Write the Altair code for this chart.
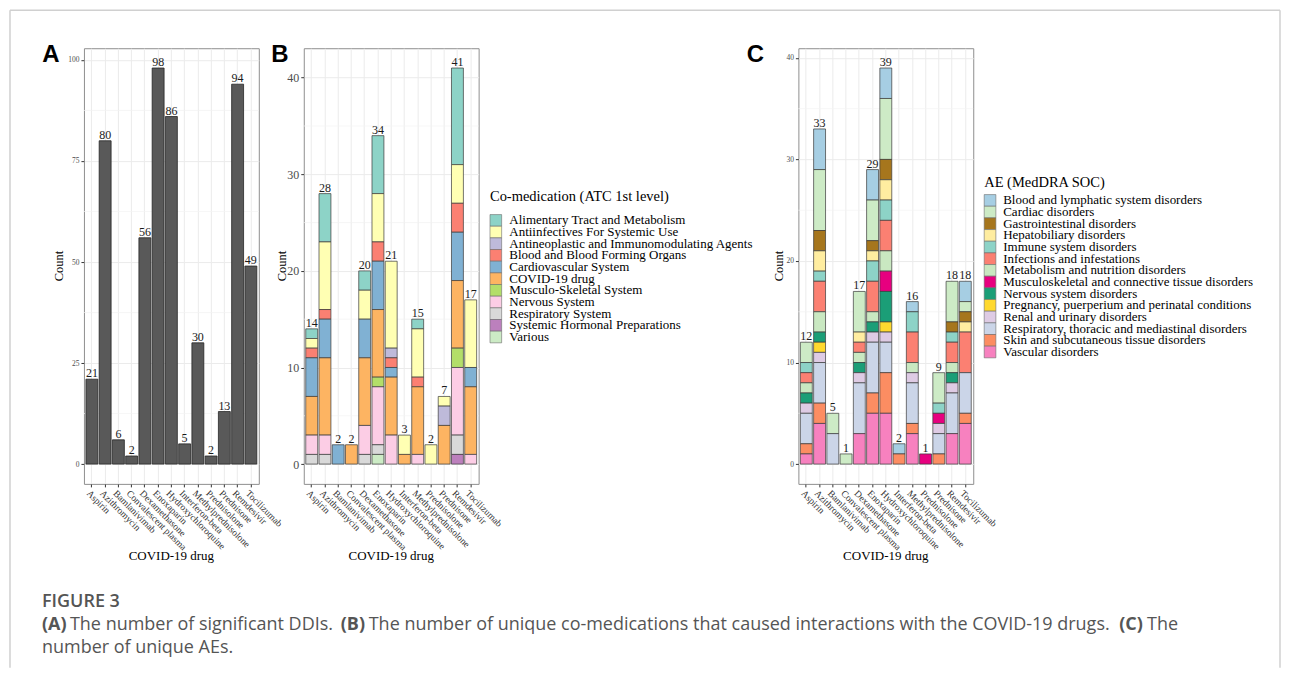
import altair as alt
import pandas as pd

# ---------------- data ----------------
drugs = ["Aspirin", "Azithromycin", "Bamlanivimab", "Convalescent plasma", "Dexamethasone",
         "Enoxaparin", "Hydroxychloroquine", "Interferon-beta", "Methylprednisolone",
         "Prednisolone", "Prednisone", "Remdesivir", "Tocilizumab"]

# Panel A: number of significant DDIs
ddi_counts = [21, 80, 6, 2, 56, 98, 86, 5, 30, 2, 13, 94, 49]

# Panel B: unique co-medications by ATC 1st level (per drug, order as `drugs`)
atc_classes = ["Alimentary Tract and Metabolism", "Antiinfectives For Systemic Use",
               "Antineoplastic and Immunomodulating Agents", "Blood and Blood Forming Organs",
               "Cardiovascular System", "COVID-19 drug", "Musculo-Skeletal System",
               "Nervous System", "Respiratory System", "Systemic Hormonal Preparations", "Various"]
atc_colors = ["#8dd3c7", "#ffffb3", "#bebada", "#fb8072", "#80b1d3", "#fdb462",
              "#b3de69", "#fccde5", "#d9d9d9", "#bc80bd", "#ccebc5"]
atc_alimentary     = [1, 5, 0, 0, 2, 6, 0, 0, 1, 0, 0, 10, 0]
atc_antiinfectives = [1, 7, 0, 0, 3, 5, 9, 2, 5, 2, 1, 4, 7]
atc_antineoplastic = [0, 0, 0, 0, 0, 0, 1, 0, 0, 0, 2, 0, 0]
atc_blood          = [1, 1, 0, 0, 0, 2, 1, 0, 1, 0, 0, 3, 0]
atc_cardiovascular = [4, 4, 2, 0, 4, 5, 1, 0, 0, 0, 0, 5, 2]
atc_covid          = [4, 8, 0, 2, 7, 7, 6, 1, 7, 0, 4, 7, 7]
atc_musculo        = [0, 0, 0, 0, 0, 1, 0, 0, 0, 0, 0, 2, 0]
atc_nervous        = [2, 2, 0, 0, 3, 6, 3, 0, 1, 0, 0, 7, 1]
atc_respiratory    = [1, 1, 0, 0, 1, 1, 0, 0, 0, 0, 0, 2, 0]
atc_hormonal       = [0, 0, 0, 0, 0, 0, 0, 0, 0, 0, 0, 1, 0]
atc_various        = [0, 0, 0, 0, 0, 1, 0, 0, 0, 0, 0, 0, 0]
atc_values = [atc_alimentary, atc_antiinfectives, atc_antineoplastic, atc_blood,
              atc_cardiovascular, atc_covid, atc_musculo, atc_nervous, atc_respiratory,
              atc_hormonal, atc_various]

# Panel C: unique AEs by MedDRA SOC
soc_classes = ["Blood and lymphatic system disorders", "Cardiac disorders",
               "Gastrointestinal disorders", "Hepatobiliary disorders", "Immune system disorders",
               "Infections and infestations", "Metabolism and nutrition disorders",
               "Musculoskeletal and connective tissue disorders", "Nervous system disorders",
               "Pregnancy, puerperium and perinatal conditions", "Renal and urinary disorders",
               "Respiratory, thoracic and mediastinal disorders",
               "Skin and subcutaneous tissue disorders", "Vascular disorders"]
soc_colors = ["#a6cee3", "#cdebc6", "#a6761d", "#ffeda0", "#8dd3c7", "#fb8072", "#c9e8c1",
              "#e7007f", "#1b9e77", "#ffd92f", "#decbe4", "#cbd5e8", "#fc8d62", "#f781bf"]
soc_blood     = [0, 4, 0, 0, 0, 3, 3, 1, 1, 0, 0, 0, 2]
soc_cardiac   = [2, 6, 2, 1, 4, 4, 6, 0, 0, 0, 3, 4, 1]
soc_gi        = [0, 2, 0, 0, 0, 1, 2, 0, 0, 0, 0, 1, 1]
soc_hepato    = [0, 2, 0, 0, 1, 1, 2, 0, 0, 0, 0, 0, 1]
soc_immune    = [1, 1, 0, 0, 0, 2, 2, 0, 2, 0, 1, 1, 0]
soc_infect    = [1, 3, 0, 0, 1, 3, 3, 0, 3, 0, 0, 2, 4]
soc_metab     = [1, 2, 0, 0, 1, 1, 2, 0, 1, 0, 0, 1, 0]
soc_musculo   = [0, 0, 0, 0, 0, 0, 2, 0, 0, 1, 1, 0, 0]
soc_nervous   = [1, 1, 0, 0, 1, 1, 3, 0, 0, 0, 0, 1, 0]
soc_pregnancy = [0, 1, 0, 0, 0, 0, 1, 0, 0, 0, 0, 0, 0]
soc_renal     = [1, 1, 0, 0, 1, 1, 1, 0, 1, 0, 1, 1, 0]
soc_resp      = [3, 4, 3, 0, 5, 5, 3, 0, 4, 0, 2, 4, 4]
soc_skin      = [1, 2, 0, 0, 0, 2, 4, 1, 1, 0, 1, 0, 1]
soc_vascular  = [1, 4, 0, 0, 3, 5, 5, 0, 3, 0, 0, 3, 4]
soc_values = [soc_blood, soc_cardiac, soc_gi, soc_hepato, soc_immune, soc_infect, soc_metab,
              soc_musculo, soc_nervous, soc_pregnancy, soc_renal, soc_resp, soc_skin,
              soc_vascular]

ticks_A = [0, 25, 50, 75, 100]
minor_A = [12.5, 37.5, 62.5, 87.5]
ticks_BC = [0, 10, 20, 30, 40]
minor_BC = [5, 15, 25, 35]

# ---------------- helpers ----------------
FONT = "Liberation Serif"
SANS = "Open Sans"
W, H = 175, 436
KEY = 11.67  # legend key height


def long_df(classes, values, key):
    rows = []
    for k, (cls, vals) in enumerate(zip(classes, values)):
        for d, v in zip(drugs, vals):
            if v > 0:
                rows.append({"drug": d, key: cls, "n": v, "k": k})
    return pd.DataFrame(rows)


def x_enc():
    return alt.X("drug:N", sort=drugs,
                 scale=alt.Scale(domain=drugs, paddingInner=0.1, paddingOuter=0.15),
                 axis=alt.Axis(title=None, labelAngle=45, labelAlign="left", labelBaseline="top",
                               labelFont=FONT, labelFontSize=9.5, labelColor="#333333",
                               labelOverlap=False, tickColor="#333333", tickSize=3,
                               labelPadding=1, domain=False, grid=True, gridColor="#ebebeb",
                               bandPosition=0.5))


def y_enc(field, domain, ticks, fs, stack=None):
    kw = {}
    if stack:
        kw["stack"] = stack
    return alt.Y(field, scale=alt.Scale(domain=domain, nice=False, zero=False),
                 axis=alt.Axis(title=None, values=ticks, labelFont=FONT, labelFontSize=fs,
                               labelColor="#4d4d4d", tickColor="#333333", tickSize=3,
                               labelPadding=2, domain=False, grid=True, gridColor="#ebebeb"),
                 **kw)


def note(txt, x, y, size, font=FONT, weight="normal", angle=0, align="center",
         baseline="alphabetic", color="black"):
    return alt.Chart(pd.DataFrame({"t": [txt]})).mark_text(
        font=font, fontSize=size, fontWeight=weight, angle=angle, align=align,
        baseline=baseline, color=color).encode(x=alt.value(x), y=alt.value(y), text="t:N")


def minor_grid(vals, domain, ticks, fs):
    return alt.Chart(pd.DataFrame({"v": vals})).mark_rule(color="#f2f2f2", strokeWidth=0.7).encode(
        y=y_enc("v:Q", domain, ticks, fs))


def panel_texts(letter, lx, count_x):
    return [note(letter, lx, 14, 24, font="Liberation Sans", weight="bold"),
            note("Count", count_x, H / 2, 12.5, angle=270, baseline="middle"),
            note("COVID-19 drug", W / 2, 512, 13)]


def key_legend(classes, colors, field, title, title_y, first_y, sw_x, lab_x):
    """Legend drawn as its own layer with a point scale for the key rows."""
    df = pd.DataFrame({field: classes})
    ysc = alt.Scale(type="point", domain=classes,
                    range=[first_y, first_y + KEY * (len(classes) - 1)], padding=0)
    yk = alt.Y(f"{field}:N", sort=classes, scale=ysc, axis=None)
    sw = alt.Chart(df).mark_square(size=KEY * KEY, opacity=1, stroke="#6b6b6b",
                                   strokeWidth=0.6).encode(
        x=alt.value(sw_x), y=yk,
        color=alt.Color(f"{field}:N", scale=alt.Scale(domain=classes, range=colors), legend=None))
    lab = alt.Chart(df).mark_text(font=FONT, fontSize=13, align="left", baseline="middle",
                                  color="black").encode(
        x=alt.value(lab_x), y=yk, text=f"{field}:N")
    ttl = note(title, sw_x - KEY / 2, title_y, 14.5, align="left")
    return alt.layer(sw, lab, ttl)


# ---------------- panel A ----------------
domA = [-4.9, 102.9]
dfA = pd.DataFrame({"drug": drugs, "count": ddi_counts})
barsA = alt.Chart(dfA).mark_bar(color="#595959", stroke="#262626", strokeWidth=0.8).encode(
    x=x_enc(), y=y_enc("count:Q", domA, ticks_A, 7.5))
textA = alt.Chart(dfA).mark_text(font=FONT, fontSize=12, baseline="alphabetic", dy=-2,
                                 color="#1a1a1a").encode(
    x=x_enc(), y=y_enc("count:Q", domA, ticks_A, 7.5), text="count:Q")

# frame + caption (positions relative to panel A plot origin)
frame_df = pd.DataFrame({"a": [0]})
frame_col = "#d0d0d0"
frame = [
    alt.Chart(frame_df).mark_rule(color=frame_col, strokeWidth=1.5).encode(
        x=alt.value(-74), y=alt.value(-38), y2=alt.value(620)),
    alt.Chart(frame_df).mark_rule(color=frame_col, strokeWidth=1.5).encode(
        x=alt.value(-74), x2=alt.value(1197), y=alt.value(-38)),
    alt.Chart(frame_df).mark_rule(color=frame_col, strokeWidth=1.5).encode(
        x=alt.value(1197), y=alt.value(-38), y2=alt.value(620)),
]
cap_col = "#555555"
CS = 18
caption = [
    note("FIGURE 3", -42, 559, 18, font=SANS, weight=600, align="left", color=cap_col),
    note("(A)", -42, 582, CS, font=SANS, weight="bold", align="left", color=cap_col),
    note("The number of significant DDIs.", -14, 582, CS, font=SANS, align="left", color=cap_col),
    note("(B)", 257, 582, CS, font=SANS, weight="bold", align="left", color=cap_col),
    note("The number of unique co-medications that caused interactions with the COVID-19 drugs.",
         285, 582, CS, font=SANS, align="left", color=cap_col),
    note("(C)", 1036, 582, CS, font=SANS, weight="bold", align="left", color=cap_col),
    note("The", 1064, 582, CS, font=SANS, align="left", color=cap_col),
    note("number of unique AEs.", -42, 605, CS, font=SANS, align="left", color=cap_col),
]

panelA = alt.layer(minor_grid(minor_A, domA, ticks_A, 7.5), barsA, textA,
                   *panel_texts("A", -33, -25), *frame, *caption).properties(width=W, height=H)

# ---------------- panel B ----------------
domB = [-2.05, 43.05]
dfB = long_df(atc_classes, atc_values, "atc")
barsB = alt.Chart(dfB).mark_bar(stroke="#3a3a3a", strokeWidth=0.7).encode(
    x=x_enc(), y=y_enc("n:Q", domB, ticks_BC, 12, stack="zero"),
    color=alt.Color("atc:N", scale=alt.Scale(domain=atc_classes, range=atc_colors), legend=None),
    order=alt.Order("k:Q", sort="descending"))
totB = alt.Chart(dfB).transform_aggregate(total="sum(n)", groupby=["drug"]).mark_text(
    font=FONT, fontSize=12, baseline="alphabetic", dy=-2, color="#1a1a1a").encode(
    x=x_enc(), y=y_enc("total:Q", domB, ticks_BC, 12), text="total:Q")
innerB = alt.layer(minor_grid(minor_BC, domB, ticks_BC, 12), barsB, totB,
                   *panel_texts("B", -24, -22))
legB = key_legend(atc_classes, atc_colors, "atc", "Co-medication (ATC 1st level)",
                  153, 172.3, 192.2, 205.7)
panelB = alt.layer(innerB, legB).resolve_scale(y="independent").properties(width=W, height=H)

# ---------------- spacer ----------------
spacer = alt.Chart(pd.DataFrame({"a": [0]})).mark_point(opacity=0).encode(
    x=alt.value(0), y=alt.value(0)).properties(width=230, height=H,
                                               view=alt.ViewBackground(stroke=None))

# ---------------- panel C ----------------
domC = [-1.95, 40.95]
dfC = long_df(soc_classes, soc_values, "soc")
barsC = alt.Chart(dfC).mark_bar(stroke="#3a3a3a", strokeWidth=0.7).encode(
    x=x_enc(), y=y_enc("n:Q", domC, ticks_BC, 7.5, stack="zero"),
    color=alt.Color("soc:N", scale=alt.Scale(domain=soc_classes, range=soc_colors), legend=None),
    order=alt.Order("k:Q", sort="descending"))
totC = alt.Chart(dfC).transform_aggregate(total="sum(n)", groupby=["drug"]).mark_text(
    font=FONT, fontSize=12, baseline="alphabetic", dy=-2, color="#1a1a1a").encode(
    x=x_enc(), y=y_enc("total:Q", domC, ticks_BC, 7.5), text="total:Q")
innerC = alt.layer(minor_grid(minor_BC, domC, ticks_BC, 7.5), barsC, totC,
                   *panel_texts("C", -43, -19))
legC = key_legend(soc_classes, soc_colors, "soc", "AE (MedDRA SOC)",
                  139, 152.3, 191.8, 205)
panelC = alt.layer(innerC, legC).resolve_scale(y="independent").properties(width=W, height=H)

chart = alt.hconcat(panelA, panelB, spacer, panelC, spacing=45, bounds="flush").resolve_scale(
    x="independent", y="independent", color="independent").configure_view(
    stroke="#8f8f8f", strokeWidth=1).properties(padding=0, background="white")

chart.save("out.html", embed_options={"renderer": "svg", "actions": False})
